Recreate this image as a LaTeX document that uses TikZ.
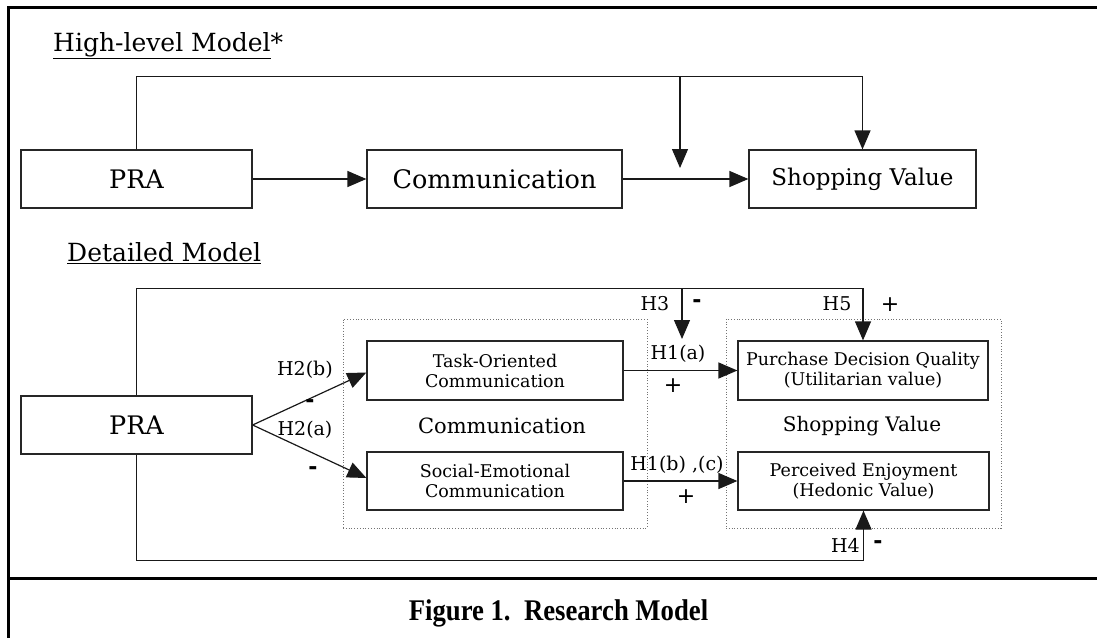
\documentclass[tikz,border=0pt]{standalone}
\usepackage{fontspec}
\setmainfont{DejaVu Serif}
\newfontfamily\capfont{Liberation Serif}
\newfontfamily\signfont{DejaVu Sans}
\usetikzlibrary{arrows.meta,calc}
\begin{document}
\begin{tikzpicture}[x=1pt,y=-1pt,
  box/.style={draw=black!85, line width=1.2pt, inner sep=0pt, align=center},
  bigbox/.style={box, minimum height=58pt, font=\fontsize{25.5}{28}\selectfont},
  smallbox/.style={box, minimum width=256pt, minimum height=59pt, font=\fontsize{17.5}{20}\selectfont},
  dotbox/.style={draw=black!55, dotted, line width=0.8pt, inner sep=0pt},
  arr/.style={-{Triangle[length=19pt,width=16pt]}, line width=1.2pt, draw=black!90},
  hlab/.style={inner sep=0pt, font=\fontsize{19}{21}\selectfont},
  sign/.style={inner sep=0pt, font=\signfont\fontsize{22}{24}\selectfont},
  grp/.style={inner sep=0pt, font=\fontsize{21}{24}\selectfont},
  title/.style={inner sep=0pt, anchor=base west, font=\fontsize{25}{28}\selectfont},
]
\useasboundingbox (0,0) rectangle (1097,637);
% frame
\draw[line width=3pt] (8,640) -- (8,7) -- (1100,7);
\draw[line width=3pt] (8,578) -- (1100,578);

% ---------- high-level model
\node[title] (t1) at (53,51) {\underline{High-level Model}*};
\node[bigbox, minimum width=231pt] (pra1) at (136.5,179) {PRA};
\node[bigbox, minimum width=255pt] (comm1) at (494.5,179) {Communication};
\node[bigbox, minimum width=227pt, font=\fontsize{23}{28}\selectfont] (sv1) at (862.5,179) {Shopping Value};
\draw[arr] (pra1) -- (comm1);
\draw[arr] (comm1) -- (sv1);
\draw[arr] (pra1.north) -- ++(0,-73) -| (sv1.north);
\coordinate (b1) at (680,77);
\coordinate (e1) at (680,168);
\draw[arr] (b1) -- (e1);

% ---------- detailed model
\node[title] (t2) at (67,261) {\underline{Detailed Model}};
\node[dotbox, minimum width=304pt, minimum height=209pt] (cg) at (495,423.5) {};
\node[dotbox, minimum width=275pt, minimum height=209pt] (sg) at (863.5,423.5) {};
\node[grp] (cgl) at (502,426) {Communication};
\node[grp, font=\fontsize{20}{24}\selectfont] (sgl) at (862,426) {Shopping Value};

\node[bigbox, minimum width=231pt] (pra2) at (136.5,425) {PRA};
\node[smallbox] (to) at (495,370.5) {Task-Oriented\\Communication};
\node[smallbox, minimum height=58pt] (se) at (495,481) {Social-Emotional\\Communication};
\node[smallbox, minimum width=250pt] (pdq) at (863,370.5) {Purchase Decision Quality\\(Utilitarian value)};
\node[smallbox, minimum width=251pt, minimum height=58pt] (pe) at (863.5,481) {Perceived Enjoyment\\(Hedonic Value)};

\draw[arr] (pra2.east) -- ($(to.west)+(0,2)$);
\draw[arr] (pra2.east) -- ($(se.west)+(0,-3)$);
\draw[arr] (to) -- (pdq);
\draw[arr] (se) -- (pe);
\draw[arr] (pra2.north) -- ++(0,-107) -| (pdq.north);
\coordinate (b2) at (682,289);
\coordinate (e2) at (682,339);
\draw[arr] (b2) -- (e2);
\draw[arr] (pra2.south) -- ++(0,106) -| (pe.south);

% labels
\node[hlab] (h2b) at (305,370) {H2(b)};
\node[sign] (m2b) at (310,404) {\bfseries -};
\node[hlab] (h2a) at (305,430) {H2(a)};
\node[sign] (m2a) at (313,471) {\bfseries -};
\node[hlab] (h3) at (655,304) {H3};
\node[sign] (m3) at (697,304) {\bfseries -};
\node[hlab] (h5) at (837,304) {H5};
\node[sign] (p5) at (890,305) {+};
\node[hlab] (h1a) at (678,354) {H1(a)};
\node[sign] (p1a) at (673,386) {+};
\node[hlab] (h1b) at (677,465) {H1(b) ,(c)};
\node[sign] (p1b) at (686,497) {+};
\node[hlab, anchor=east] (h4) at (860,545) {H4};
\node[sign] (m4) at (878,545) {\bfseries -};

% caption
\node[inner sep=0pt, anchor=base, font=\capfont\bfseries\fontsize{30}{32}\selectfont, xscale=0.89, transform shape] (cap) at (558.5,620) {Figure 1.\ \ Research Model};
\end{tikzpicture}
\end{document}
